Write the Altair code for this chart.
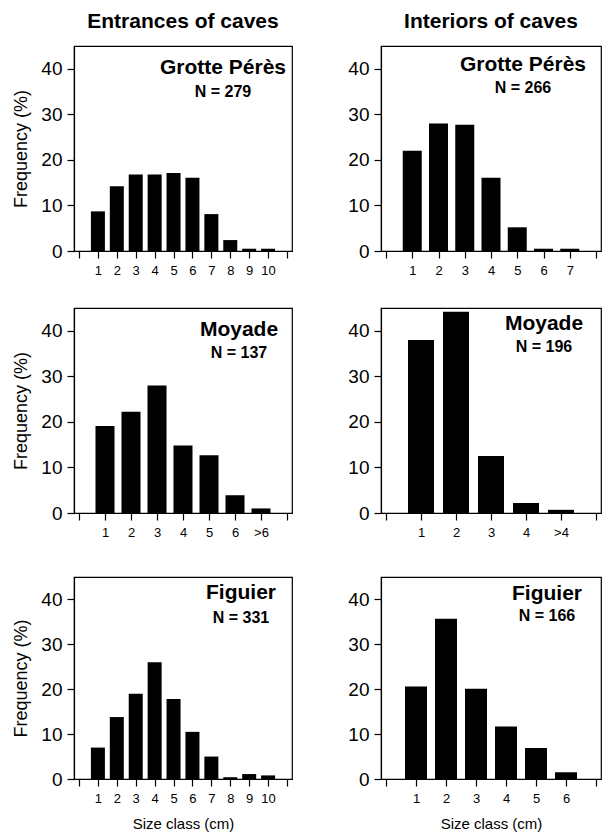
import altair as alt
import pandas as pd

FONT = "Liberation Sans"

# ---- data ----
sizes_ent_gp = ["1", "2", "3", "4", "5", "6", "7", "8", "9", "10"]
freq_ent_gp = [8.7, 14.2, 16.8, 16.8, 17.1, 16.1, 8.1, 2.4, 0.5, 0.5]

sizes_int_gp = ["1", "2", "3", "4", "5", "6", "7"]
freq_int_gp = [22.0, 28.0, 27.7, 16.1, 5.2, 0.5, 0.5]

sizes_ent_moy = ["1", "2", "3", "4", "5", "6", ">6"]
freq_ent_moy = [19.1, 22.2, 28.0, 14.8, 12.7, 3.9, 1.0]

sizes_int_moy = ["1", "2", "3", "4", ">4"]
freq_int_moy = [38.0, 44.2, 12.5, 2.2, 0.7]

sizes_ent_fig = ["1", "2", "3", "4", "5", "6", "7", "8", "9", "10"]
freq_ent_fig = [7.0, 13.8, 19.0, 26.0, 17.8, 10.5, 5.0, 0.4, 1.1, 0.8]

sizes_int_fig = ["1", "2", "3", "4", "5", "6"]
freq_int_fig = [20.6, 35.7, 20.1, 11.7, 6.9, 1.5]

sites = ["Grotte Pérès", "Grotte Pérès", "Moyade", "Moyade", "Figuier", "Figuier"]
n_labels = ["N = 279", "N = 266", "N = 137", "N = 196", "N = 331", "N = 166"]
column_titles = ["Entrances of caves", "Interiors of caves"]
y_title = "Frequency (%)"
x_title = "Size class (cm)"


def panel(sizes, freqs, site, nlab, width, height, left, bottom, name_pos, col_title=None):
    n = len(sizes)
    df = pd.DataFrame({"pos": list(range(1, n + 1)), "size": sizes, "freq": freqs})
    labels = [""] + sizes + [""]
    label_expr = "[" + ",".join("'" + s + "'" for s in labels) + "][datum.value]"
    step = width / (n + 1)

    xaxis_kw = dict(values=list(range(n + 2)), labelExpr=label_expr, grid=False,
                    tickSize=7, labelFontSize=13, labelPadding=6, labelFont=FONT,
                    labelColor="black", tickColor="black", domainColor="black",
                    labelFlush=False)
    if bottom:
        xaxis_kw.update(title=x_title, titleFont=FONT, titleFontSize=15,
                        titleFontWeight="normal", titlePadding=11, titleColor="black")
    else:
        xaxis_kw.update(title="")

    yaxis_kw = dict(values=[0, 10, 20, 30, 40], grid=False, tickSize=7,
                    labelFontSize=19, labelPadding=5, labelFont=FONT,
                    labelColor="black", tickColor="black", domainColor="black")
    if left:
        yaxis_kw.update(title=y_title, titleFont=FONT, titleFontSize=18,
                        titleFontWeight="normal", titlePadding=10, titleColor="black")
    else:
        yaxis_kw.update(title="")

    bars = alt.Chart(df).mark_bar(color="black", size=round(step * 0.7)).encode(
        x=alt.X("pos:Q", scale=alt.Scale(domain=[0, n + 1], nice=False, zero=False),
                axis=alt.Axis(**xaxis_kw)),
        y=alt.Y("freq:Q", scale=alt.Scale(domain=[0, 45], nice=False),
                axis=alt.Axis(**yaxis_kw)),
    )
    cx, cy1, cy2 = name_pos
    name = alt.Chart(pd.DataFrame({"t": [site]})).mark_text(
        font=FONT, fontSize=21, fontWeight="bold", color="black",
        align="center", baseline="middle").encode(
        x=alt.value(cx), y=alt.value(cy1), text="t:N")
    nn = alt.Chart(pd.DataFrame({"t": [nlab]})).mark_text(
        font=FONT, fontSize=16, fontWeight="bold", color="black",
        align="center", baseline="middle").encode(
        x=alt.value(cx), y=alt.value(cy2), text="t:N")
    props = dict(width=width, height=height)
    if col_title:
        props["title"] = alt.TitleParams(col_title, anchor="middle", frame="group",
                                         font=FONT, fontSize=21, fontWeight="bold",
                                         color="black", offset=14)
    return alt.layer(bars, name, nn).properties(**props)


p1 = panel(sizes_ent_gp, freq_ent_gp, sites[0], n_labels[0], 218, 205, True, False,
           (149, 22, 46), column_titles[0])
p2 = panel(sizes_int_gp, freq_int_gp, sites[1], n_labels[1], 220, 205, False, False,
           (142, 19, 42), column_titles[1])
p3 = panel(sizes_ent_moy, freq_ent_moy, sites[2], n_labels[2], 218, 205, True, False,
           (165, 22, 45))
p4 = panel(sizes_int_moy, freq_int_moy, sites[3], n_labels[3], 220, 205, False, False,
           (163, 16, 39))
p5 = panel(sizes_ent_fig, freq_ent_fig, sites[4], n_labels[4], 218, 202, True, True,
           (167, 16, 41))
p6 = panel(sizes_int_fig, freq_int_fig, sites[5], n_labels[5], 220, 202, False, True,
           (166, 17, 39))

row1 = alt.hconcat(p1, p2, spacing=54)
row2 = alt.hconcat(p3, p4, spacing=54)
row3 = alt.hconcat(p5, p6, spacing=54)

top = alt.vconcat(row1, row2, spacing=29)
chart = alt.vconcat(top, row3, spacing=36).properties(
    padding={"left": 12, "top": 10, "right": 0, "bottom": 0},
    background="white",
).configure_view(stroke="black", strokeWidth=1.2).configure_axis(
    domainWidth=1.2, tickWidth=1.2
)

chart.save("out.html", embed_options={"renderer": "svg", "actions": False})
